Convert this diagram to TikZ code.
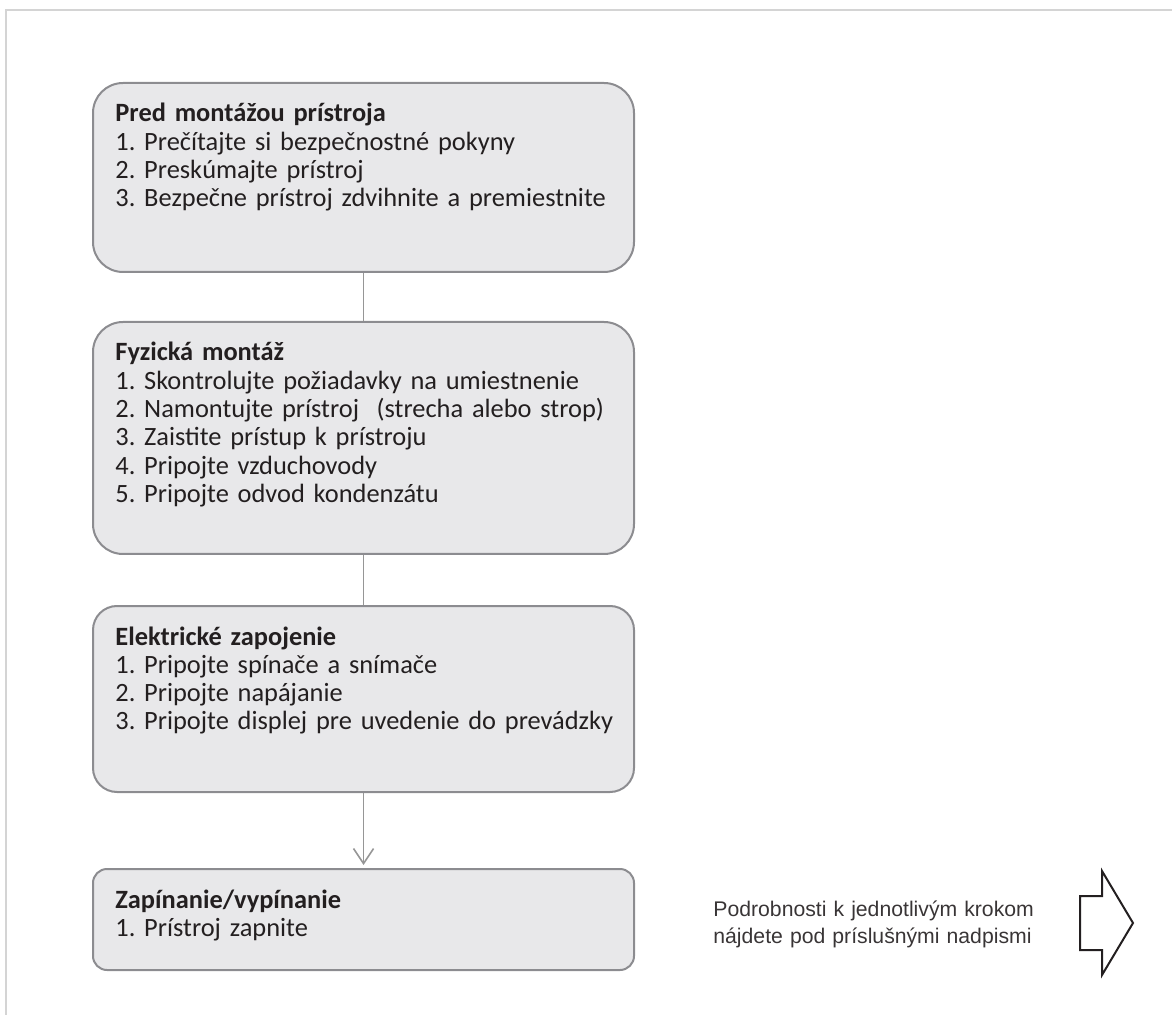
\documentclass[tikz,border=0pt]{standalone}
\usepackage{fontspec}
\setmainfont{Carlito}
\newfontfamily\notefont{Liberation Sans}
\usetikzlibrary{arrows.meta}
\usetikzlibrary{fit}
\frenchspacing
\definecolor{boxfill}{RGB}{232,232,234}
\definecolor{boxline}{RGB}{140,140,144}
\definecolor{linkgray}{RGB}{150,150,150}
\definecolor{framegray}{RGB}{212,212,212}
\definecolor{inkdark}{RGB}{35,31,32}
\tikzstyle{stepbox} = [draw=boxline, fill=boxfill, line width=1pt, rounded corners=15pt, inner sep=0pt]
\tikzstyle{steptext} = [anchor=base west, inner sep=0pt, text width=262pt, align=left, text=inkdark, font=\fontsize{13.2}{14.15}\selectfont]
\tikzstyle{notetext} = [anchor=base west, inner sep=0pt, text width=180pt, align=left, text=inkdark!90, font=\notefont\fontsize{10.6}{13.5}\selectfont]
\tikzstyle{link} = [draw=linkgray, line width=0.8pt]
\tikzstyle{arrow} = [link, -{Straight Barb[length=7.5pt, width=10pt]}, shorten >=1.5pt]

\begin{document}
\begin{tikzpicture}[x=0.5pt, y=-0.5pt]
\useasboundingbox (0,0) rectangle (1172,1015);

% outer frame, open at right and bottom
\draw [framegray, line width=1pt] (6,1015) |- (1172,10);

% the four steps
\node (pre) [stepbox, fit={(93,83)(634,272)}] {};
\node (fyz) [stepbox, fit={(93,322)(634,554)}] {};
\node (ele) [stepbox, rounded corners=12pt, fit={(93,606)(634,792)}] {};
\node (zap) [stepbox, rounded corners=7pt, fit={(93,869)(634,970)}] {};

\node (pretxt) [steptext] at ([shift={(23,40)}]pre.north west)
  {\textbf{Pred montážou prístroja}\\
   1. Prečítajte si bezpečnostné pokyny\\
   2. Preskúmajte prístroj\\
   3. Bezpečne prístroj zdvihnite a premiestnite};
\node (fyztxt) [steptext] at ([shift={(23,40)}]fyz.north west)
  {\textbf{Fyzická montáž}\\
   1. Skontrolujte požiadavky na umiestnenie\\
   2. Namontujte prístroj~ (strecha alebo strop)\\
   3. Zaistite prístup k prístroju\\
   4. Pripojte vzduchovody\\
   5. Pripojte odvod kondenzátu};
\node (eletxt) [steptext] at ([shift={(23,40)}]ele.north west)
  {\textbf{Elektrické zapojenie}\\
   1. Pripojte spínače a snímače\\
   2. Pripojte napájanie\\
   3. Pripojte displej pre uvedenie do prevádzky};
\node (zaptxt) [steptext] at ([shift={(23,40)}]zap.north west)
  {\textbf{Zapínanie/vypínanie}\\
   1. Prístroj zapnite};

\draw [link] (pre) -- (fyz);
\draw [link] (fyz) -- (ele);
\draw [arrow] (ele) -- (zap);

% hint at the right
\node (note) [notetext] at (713,916)
  {Podrobnosti k jednotlivým krokom\\
   nájdete pod príslušnými nadpismi};
\draw [inkdark, line width=1pt, line join=miter]
  (1080,896) -- (1102,896) -- (1102,871) -- (1133,923)
  -- (1102,975) -- (1102,950) -- (1080,950) -- cycle;

\end{tikzpicture}
\end{document}
